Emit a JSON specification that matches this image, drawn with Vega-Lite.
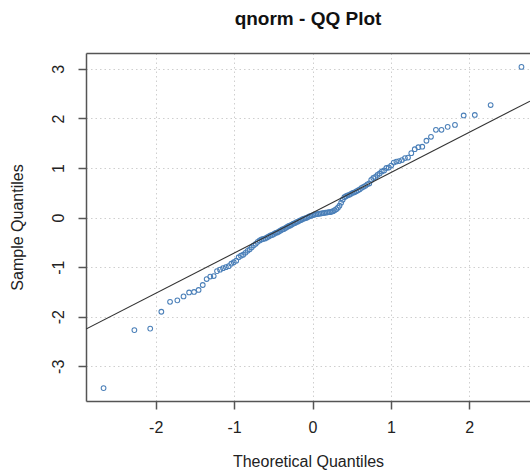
{
  "$schema": "https://vega.github.io/schema/vega-lite/v6.json",
  "width": 444,
  "height": 348,
  "autosize": {"type": "none"},
  "padding": {"left": 86, "top": 53, "right": 0, "bottom": 73},
  "background": "white",
  "title": {
    "text": "qnorm - QQ Plot",
    "font": "Liberation Sans",
    "fontSize": 19,
    "fontWeight": "bold",
    "color": "#111111",
    "anchor": "middle",
    "offset": 24
  },
  "config": {
    "view": {"stroke": null},
    "axis": {
      "labelFont": "Liberation Sans",
      "titleFont": "Liberation Sans",
      "labelFontSize": 16,
      "titleFontSize": 16,
      "titleFontWeight": "normal",
      "labelColor": "#222222",
      "titleColor": "#222222",
      "domainColor": "#555555",
      "domainWidth": 1.5,
      "tickColor": "#555555",
      "tickWidth": 1.5,
      "tickSize": 8,
      "gridColor": "#cfcfcf",
      "gridDash": [1.5, 3],
      "gridWidth": 1
    }
  },
  "datasets": {
    "qq": [
      {"theoretical": -2.665, "sample": -3.44},
      {"theoretical": -2.272, "sample": -2.27},
      {"theoretical": -2.070, "sample": -2.24},
      {"theoretical": -1.928, "sample": -1.90},
      {"theoretical": -1.817, "sample": -1.70},
      {"theoretical": -1.724, "sample": -1.67},
      {"theoretical": -1.645, "sample": -1.59},
      {"theoretical": -1.574, "sample": -1.51},
      {"theoretical": -1.511, "sample": -1.50},
      {"theoretical": -1.453, "sample": -1.46},
      {"theoretical": -1.400, "sample": -1.36},
      {"theoretical": -1.350, "sample": -1.24},
      {"theoretical": -1.304, "sample": -1.19},
      {"theoretical": -1.260, "sample": -1.18},
      {"theoretical": -1.218, "sample": -1.08},
      {"theoretical": -1.179, "sample": -1.05},
      {"theoretical": -1.141, "sample": -1.02},
      {"theoretical": -1.105, "sample": -1.00},
      {"theoretical": -1.070, "sample": -0.98},
      {"theoretical": -1.036, "sample": -0.93},
      {"theoretical": -1.004, "sample": -0.90},
      {"theoretical": -0.973, "sample": -0.87},
      {"theoretical": -0.942, "sample": -0.80},
      {"theoretical": -0.913, "sample": -0.77},
      {"theoretical": -0.884, "sample": -0.75},
      {"theoretical": -0.856, "sample": -0.71},
      {"theoretical": -0.828, "sample": -0.67},
      {"theoretical": -0.801, "sample": -0.64},
      {"theoretical": -0.775, "sample": -0.60},
      {"theoretical": -0.749, "sample": -0.56},
      {"theoretical": -0.724, "sample": -0.53},
      {"theoretical": -0.699, "sample": -0.49},
      {"theoretical": -0.674, "sample": -0.46},
      {"theoretical": -0.650, "sample": -0.44},
      {"theoretical": -0.627, "sample": -0.43},
      {"theoretical": -0.603, "sample": -0.42},
      {"theoretical": -0.580, "sample": -0.40},
      {"theoretical": -0.558, "sample": -0.38},
      {"theoretical": -0.535, "sample": -0.36},
      {"theoretical": -0.513, "sample": -0.35},
      {"theoretical": -0.491, "sample": -0.33},
      {"theoretical": -0.470, "sample": -0.31},
      {"theoretical": -0.448, "sample": -0.30},
      {"theoretical": -0.427, "sample": -0.28},
      {"theoretical": -0.406, "sample": -0.26},
      {"theoretical": -0.385, "sample": -0.24},
      {"theoretical": -0.365, "sample": -0.23},
      {"theoretical": -0.344, "sample": -0.21},
      {"theoretical": -0.324, "sample": -0.19},
      {"theoretical": -0.303, "sample": -0.17},
      {"theoretical": -0.283, "sample": -0.16},
      {"theoretical": -0.263, "sample": -0.14},
      {"theoretical": -0.243, "sample": -0.12},
      {"theoretical": -0.223, "sample": -0.11},
      {"theoretical": -0.204, "sample": -0.09},
      {"theoretical": -0.184, "sample": -0.08},
      {"theoretical": -0.165, "sample": -0.06},
      {"theoretical": -0.145, "sample": -0.05},
      {"theoretical": -0.126, "sample": -0.03},
      {"theoretical": -0.106, "sample": -0.02},
      {"theoretical": -0.087, "sample": -0.01},
      {"theoretical": -0.068, "sample": 0.00},
      {"theoretical": -0.048, "sample": 0.02},
      {"theoretical": -0.029, "sample": 0.03},
      {"theoretical": -0.010, "sample": 0.04},
      {"theoretical": 0.010, "sample": 0.05},
      {"theoretical": 0.029, "sample": 0.06},
      {"theoretical": 0.048, "sample": 0.07},
      {"theoretical": 0.068, "sample": 0.07},
      {"theoretical": 0.087, "sample": 0.08},
      {"theoretical": 0.106, "sample": 0.08},
      {"theoretical": 0.126, "sample": 0.09},
      {"theoretical": 0.145, "sample": 0.09},
      {"theoretical": 0.165, "sample": 0.10},
      {"theoretical": 0.184, "sample": 0.10},
      {"theoretical": 0.204, "sample": 0.11},
      {"theoretical": 0.223, "sample": 0.11},
      {"theoretical": 0.243, "sample": 0.12},
      {"theoretical": 0.263, "sample": 0.13},
      {"theoretical": 0.283, "sample": 0.15},
      {"theoretical": 0.303, "sample": 0.17},
      {"theoretical": 0.324, "sample": 0.20},
      {"theoretical": 0.344, "sample": 0.24},
      {"theoretical": 0.365, "sample": 0.30},
      {"theoretical": 0.385, "sample": 0.36},
      {"theoretical": 0.406, "sample": 0.41},
      {"theoretical": 0.427, "sample": 0.43},
      {"theoretical": 0.448, "sample": 0.45},
      {"theoretical": 0.470, "sample": 0.46},
      {"theoretical": 0.491, "sample": 0.48},
      {"theoretical": 0.513, "sample": 0.50},
      {"theoretical": 0.535, "sample": 0.51},
      {"theoretical": 0.558, "sample": 0.53},
      {"theoretical": 0.580, "sample": 0.55},
      {"theoretical": 0.603, "sample": 0.57},
      {"theoretical": 0.627, "sample": 0.60},
      {"theoretical": 0.650, "sample": 0.62},
      {"theoretical": 0.674, "sample": 0.64},
      {"theoretical": 0.699, "sample": 0.67},
      {"theoretical": 0.724, "sample": 0.69},
      {"theoretical": 0.749, "sample": 0.76},
      {"theoretical": 0.775, "sample": 0.80},
      {"theoretical": 0.801, "sample": 0.82},
      {"theoretical": 0.828, "sample": 0.86},
      {"theoretical": 0.856, "sample": 0.89},
      {"theoretical": 0.884, "sample": 0.93},
      {"theoretical": 0.913, "sample": 0.95},
      {"theoretical": 0.942, "sample": 1.00},
      {"theoretical": 0.973, "sample": 1.01},
      {"theoretical": 1.004, "sample": 1.05},
      {"theoretical": 1.036, "sample": 1.11},
      {"theoretical": 1.070, "sample": 1.13},
      {"theoretical": 1.105, "sample": 1.14},
      {"theoretical": 1.141, "sample": 1.16},
      {"theoretical": 1.179, "sample": 1.20},
      {"theoretical": 1.218, "sample": 1.21},
      {"theoretical": 1.260, "sample": 1.30},
      {"theoretical": 1.304, "sample": 1.38},
      {"theoretical": 1.350, "sample": 1.42},
      {"theoretical": 1.400, "sample": 1.43},
      {"theoretical": 1.453, "sample": 1.55},
      {"theoretical": 1.511, "sample": 1.63},
      {"theoretical": 1.574, "sample": 1.77},
      {"theoretical": 1.645, "sample": 1.77},
      {"theoretical": 1.724, "sample": 1.83},
      {"theoretical": 1.817, "sample": 1.87},
      {"theoretical": 1.928, "sample": 2.06},
      {"theoretical": 2.070, "sample": 2.07},
      {"theoretical": 2.272, "sample": 2.27},
      {"theoretical": 2.665, "sample": 3.04}
    ],
    "qqline": [
      {"theoretical": -2.889, "sample": -2.250},
      {"theoretical": 2.774, "sample": 2.348}
    ]
  },
  "layer": [
    {
      "data": {"name": "qq"},
      "mark": {"type": "point", "shape": "circle", "filled": false, "size": 22, "strokeWidth": 1.1, "color": "#4a7fb8", "opacity": 1},
      "encoding": {
        "x": {
          "field": "theoretical",
          "type": "quantitative",
          "scale": {"domain": [-2.889, 2.774], "nice": false, "zero": false},
          "axis": {
            "orient": "bottom",
            "values": [-2, -1, 0, 1, 2],
            "labelExpr": "'' + datum.value",
            "title": "Theoretical Quantiles",
            "labelPadding": 10,
            "titlePadding": 18,
            "grid": true,
            "domain": true
          }
        },
        "y": {
          "field": "sample",
          "type": "quantitative",
          "scale": {"domain": [-3.70, 3.32], "nice": false, "zero": false},
          "axis": {
            "orient": "left",
            "values": [-3, -2, -1, 0, 1, 2, 3],
            "labelExpr": "'' + datum.value",
            "title": "Sample Quantiles",
            "labelAngle": -90,
            "labelAlign": "center",
            "labelBaseline": "bottom",
            "labelPadding": 12,
            "titlePadding": 25,
            "grid": true,
            "domain": true
          }
        }
      }
    },
    {
      "data": {"name": "qqline"},
      "mark": {"type": "line", "color": "#333333", "strokeWidth": 1.1, "clip": true},
      "encoding": {
        "x": {
          "field": "theoretical",
          "type": "quantitative",
          "scale": {"domain": [-2.889, 2.774], "nice": false, "zero": false},
          "axis": {
            "orient": "top",
            "labels": false,
            "ticks": false,
            "grid": false,
            "domain": true,
            "title": null
          }
        },
        "y": {"field": "sample", "type": "quantitative"}
      }
    }
  ],
  "resolve": {"axis": {"x": "independent"}}
}
